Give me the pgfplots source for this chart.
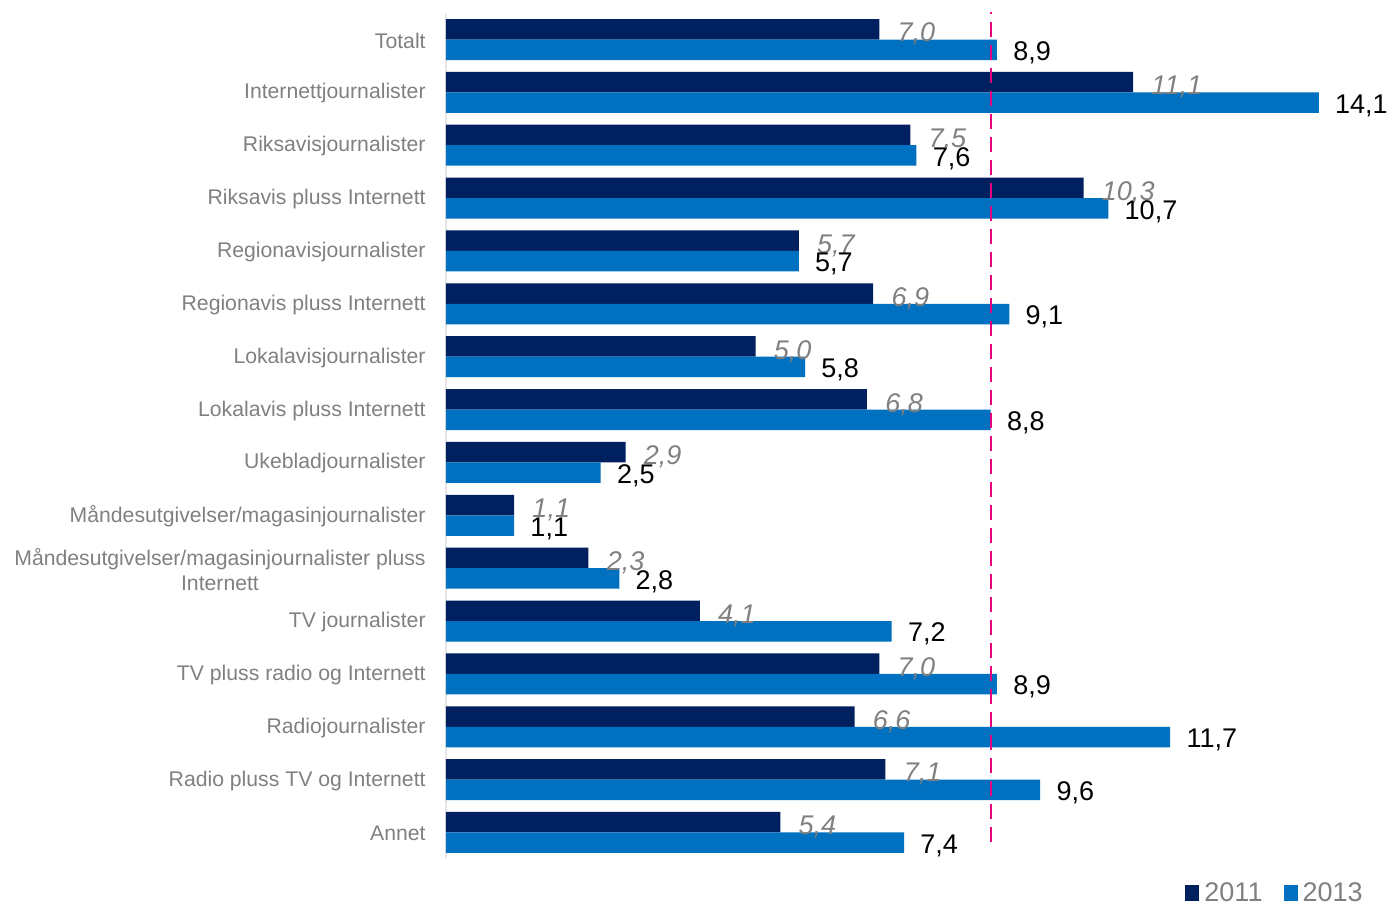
\documentclass[border=0pt]{standalone}
\usepackage{fontspec}
\setmainfont{Liberation Sans}
\usepackage{pgfplots}
\pgfplotsset{compat=1.18}
\definecolor{navy}{RGB}{0,32,96}
\definecolor{blu}{RGB}{0,112,192}
\definecolor{lab}{RGB}{128,128,128}
\definecolor{mag}{RGB}{230,0,126}
\begin{document}
\begin{tikzpicture}[x=1pt,y=1pt]
\useasboundingbox (0,0) rectangle (696.5,453.5);
\begin{axis}[
  at={(223pt,21.4pt)}, anchor=south west,
  scale only axis, width=464.25pt, height=428.2pt,
  xmin=0, xmax=15, ymin=-0.6, ymax=15.6,
  xbar, bar width=10.25pt,
  hide x axis,
  axis y line*=left,
  y axis line style={draw=none},
  ytick={0,...,15},
  yticklabels={Annet, Radio pluss TV og Internett, Radiojournalister, TV pluss radio og Internett, TV journalister, {Måndesutgivelser/magasinjournalister pluss\\Internett}, Måndesutgivelser/magasinjournalister, Ukebladjournalister, Lokalavis pluss Internett, Lokalavisjournalister, Regionavis pluss Internett, Regionavisjournalister, Riksavis pluss Internett, Riksavisjournalister, Internettjournalister, Totalt},
  major tick length=0pt,
  yticklabel style={font=\fontsize{10.6}{12.5}\selectfont, text=lab, align=center, inner sep=0pt, anchor=east, xshift=-10pt, yshift=-0.5pt},
  clip=false,
  legend columns=2,
  legend style={at={(0.993,-0.034)}, anchor=east, draw=none, fill=none, inner sep=0pt,
    font=\fontsize{13.5}{15}\selectfont, text=lab,
    nodes={inner xsep=2.5pt, inner ysep=0pt},
    /tikz/every even column/.append style={column sep=8pt}},
  legend image code/.code={\fill[#1] (0pt,-4pt) rectangle (7pt,4pt);},
]
\draw[gray!20, line width=0.6pt] (axis cs:0,-0.48) -- (axis cs:0,15.48);
\addplot[xbar, fill=navy, draw=none, bar shift=5.125pt,
  nodes near coords={\pgfmathprintnumber[fixed, fixed zerofill, precision=1, use comma, assume math mode=true]{\pgfplotspointmeta}},
  every node near coord/.append style={anchor=west, inner sep=0pt, xshift=9pt, yshift=-2.5pt, text=lab, font=\fontsize{13.5}{15}\selectfont\itshape}]
  coordinates {(7.0,15) (11.1,14) (7.5,13) (10.3,12) (5.7,11) (6.9,10) (5.0,9) (6.8,8) (2.9,7) (1.1,6) (2.3,5) (4.1,4) (7.0,3) (6.6,2) (7.1,1) (5.4,0)};
\addplot[xbar, fill=blu, draw=none, bar shift=-5.125pt,
  nodes near coords={\pgfmathprintnumber[fixed, fixed zerofill, precision=1, use comma, assume math mode=true]{\pgfplotspointmeta}},
  every node near coord/.append style={anchor=west, inner sep=0pt, xshift=8pt, yshift=-1.5pt, text=black, font=\fontsize{13.5}{15}\selectfont}]
  coordinates {(8.9,15) (14.1,14) (7.6,13) (10.7,12) (5.7,11) (9.1,10) (5.8,9) (8.8,8) (2.5,7) (1.1,6) (2.8,5) (7.2,4) (8.9,3) (11.7,2) (9.6,1) (7.4,0)};
\legend{2011,2013}
\draw[mag, line width=1pt, dash pattern=on 7.5pt off 4pt] (axis cs:8.8,-0.18) -- (axis cs:8.8,15.52);
\end{axis}
\end{tikzpicture}
\end{document}
